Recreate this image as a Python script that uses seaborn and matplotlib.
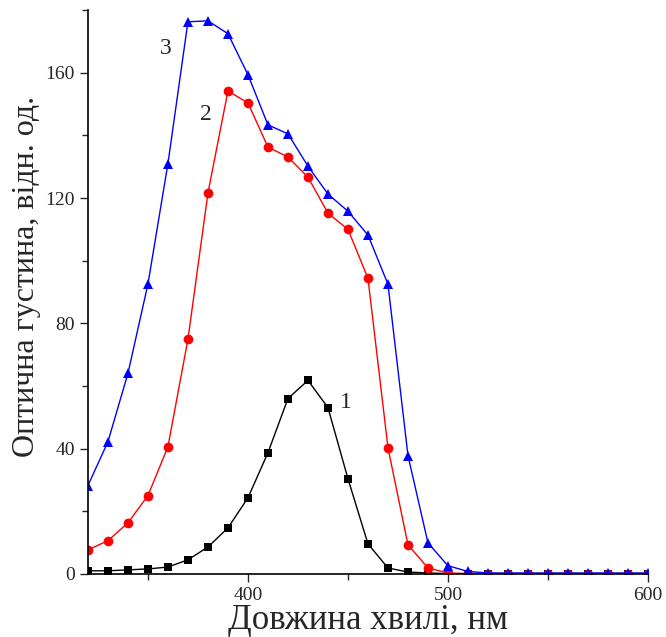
import numpy as np
import pandas as pd
import matplotlib
matplotlib.use('Agg')
import matplotlib.pyplot as plt
import seaborn as sns
from matplotlib.ticker import MultipleLocator

# wavelengths, nm
wavelength = list(range(320, 610, 10))

# curve 1 (black squares)
od_1 = [1.0, 1.0, 1.3, 1.6, 2.2, 4.5, 8.6, 14.7, 24.3, 38.7, 56.0, 61.8, 53.1, 30.4, 9.6,
        1.9, 0.6, 0.3, 0.1, 0.1, 0.1, 0.1, 0.1, 0.1, 0.1, 0.1, 0.1, 0.1, 0.1]
# curve 2 (red circles)
od_2 = [7.7, 10.6, 16.3, 25.0, 40.6, 74.9, 121.6, 154.2, 150.4, 136.3, 133.1, 126.7, 115.2,
        110.0, 94.4, 40.3, 9.3, 1.9, 0.3, 0.1, 0.1, 0.1, 0.1, 0.1, 0.1, 0.1, 0.1, 0.1, 0.1]
# curve 3 (blue triangles)
od_3 = [28.2, 42.2, 64.0, 92.5, 131.0, 176.3, 176.6, 172.5, 159.4, 143.4, 140.5, 130.2, 121.3,
        115.8, 108.2, 92.5, 37.8, 9.9, 2.6, 0.8, 0.3, 0.3, 0.3, 0.3, 0.3, 0.3, 0.3, 0.3, 0.3]

curve_labels = ['1', '2', '3']
curve_colors = ['black', 'red', 'blue']
curve_markers = ['s', 'o', '^']

sns.set_style('ticks')
plt.rcParams['font.family'] = ['Liberation Serif', 'DejaVu Serif']

fig = plt.figure(figsize=(6.66, 6.37), dpi=100)
ax = fig.add_axes([0.132, 0.099, 0.841, 0.885])

for vals, col, mk in zip([od_1, od_2, od_3], curve_colors, curve_markers):
    df = pd.DataFrame({'wl': wavelength, 'od': vals})
    sns.lineplot(data=df, x='wl', y='od', ax=ax, color=col, marker=mk,
                 markersize=7 if mk != 's' else 6, markeredgewidth=0,
                 linewidth=1.0)

# curve numbers
ax.text(446, 53, curve_labels[0], fontsize=17)
ax.text(376, 145, curve_labels[1], fontsize=17)
ax.text(356, 166, curve_labels[2], fontsize=17)

ax.set_xlim(320, 600)
ax.set_ylim(0, 180)
ax.xaxis.set_major_locator(MultipleLocator(100))
ax.xaxis.set_minor_locator(MultipleLocator(50))
ax.yaxis.set_major_locator(MultipleLocator(40))
ax.yaxis.set_minor_locator(MultipleLocator(20))
ax.tick_params(which='major', length=6, width=1, labelsize=14, direction='out')
ax.tick_params(which='minor', length=4, width=1, direction='out')

ax.set_xlabel('Довжина хвилі, нм', fontsize=25, labelpad=0)
ax.set_ylabel('Оптична густина, відн. од.', fontsize=23)
ax.yaxis.set_label_coords(-0.083, 0.527)

sns.despine(ax=ax)
for s in ['left', 'bottom']:
    ax.spines[s].set_linewidth(1.2)
    ax.spines[s].set_color('black')

fig.savefig('out.png', dpi=100)
